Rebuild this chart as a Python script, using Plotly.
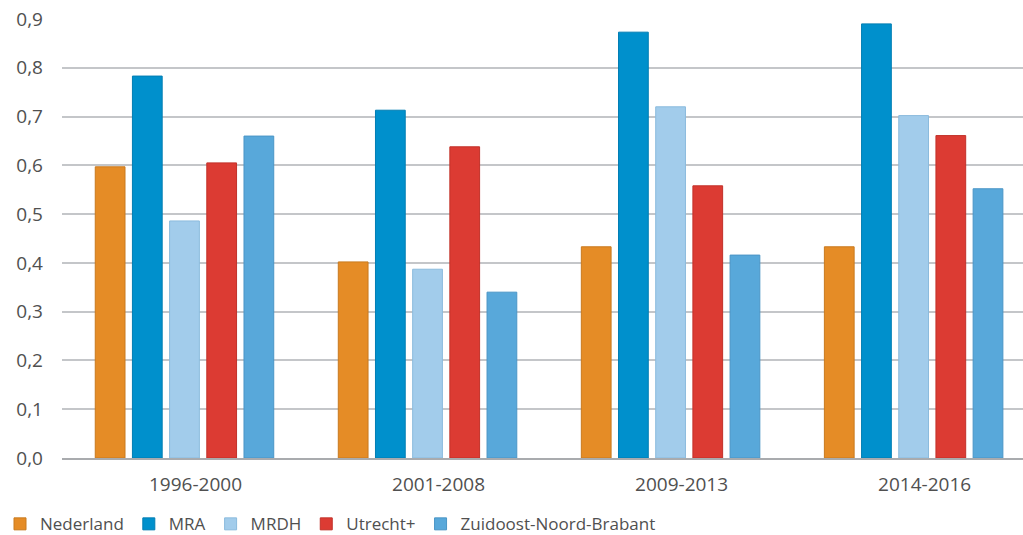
import plotly.graph_objects as go

periods = ["1996-2000", "2001-2008", "2009-2013", "2014-2016"]
series_names = ["Nederland", "MRA", "MRDH", "Utrecht+", "Zuidoost-Noord-Brabant"]
nederland = [0.597, 0.402, 0.433, 0.433]
mra = [0.783, 0.713, 0.873, 0.890]
mrdh = [0.486, 0.387, 0.720, 0.702]
utrecht = [0.605, 0.638, 0.558, 0.661]
znb = [0.660, 0.340, 0.416, 0.552]
values = [nederland, mra, mrdh, utrecht, znb]
colors = ["#E58C26", "#0090CC", "#A2CCEB", "#DC3B33", "#58A8DA"]
lines = ["#C97A1E", "#007DB3", "#8BBBDD", "#C23129", "#4A95C6"]

fig = go.Figure()
for name, vals, c, lc in zip(series_names, values, colors, lines):
    fig.add_trace(go.Bar(x=periods, y=vals, name=name,
                         marker=dict(color=c, line=dict(color=lc, width=1))))

fig.update_layout(
    width=1023, height=535,
    margin=dict(l=62, r=0, t=19, b=77),
    paper_bgcolor="white", plot_bgcolor="white",
    barmode="group", bargap=0.235, bargroupgap=0.2,
    separators=",.",
    font=dict(family="Open Sans", size=19, color="#505050"),
    showlegend=True,
    legend=dict(orientation="h", xref="container", yref="container",
                x=0.0, xanchor="left", y=0.02, yanchor="middle",
                font=dict(size=17, color="#505050"), itemwidth=30,
                traceorder="normal", tracegroupgap=0),
)
fig.update_yaxes(range=[0, 0.9], dtick=0.1, tickformat=".1f",
                 showgrid=True, gridcolor="#C4C6C9", gridwidth=2,
                 zeroline=False, showline=False, ticks="", ticklabelstandoff=18)
fig.update_xaxes(range=[-0.504, 3.45], showgrid=False, showline=True,
                 linecolor="#A9ABAE", linewidth=2, ticks="",
                 ticklabelstandoff=8, ticklabelshift=11)

fig.write_html("out.html", post_script="document.body.style.margin='0';",
               config={"displayModeBar": False})
